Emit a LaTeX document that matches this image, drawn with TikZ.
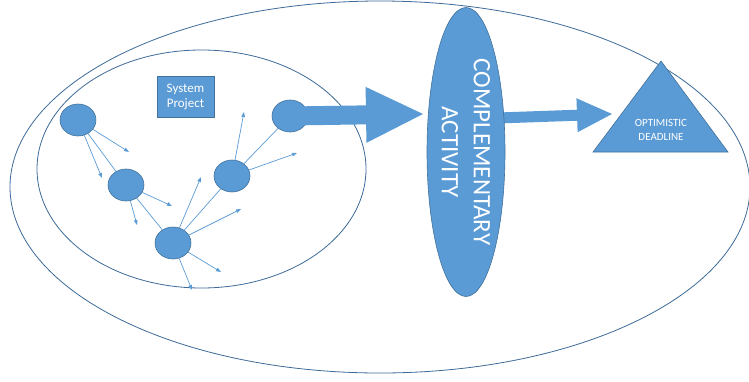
\documentclass[tikz,border=0pt]{standalone}
\usepackage{fontspec}
\setmainfont{Carlito}
\usetikzlibrary{shapes.geometric,arrows.meta}
\definecolor{officeblue}{HTML}{5B9BD5}
\definecolor{officeedge}{HTML}{41719C}
\definecolor{rimblue}{HTML}{3C6A98}

\begin{document}
\begin{tikzpicture}[x=1pt,y=-1pt]
\tikzstyle{rim}=[draw=rimblue,line width=0.8pt]
\tikzstyle{task}=[ellipse,draw=officeedge,fill=officeblue,minimum width=36pt,minimum height=32pt,inner sep=0pt,line width=0.6pt]
\tikzstyle{link}=[draw=officeblue,line width=0.7pt]
\tikzstyle{spread}=[link,-{Triangle[length=5pt,width=3.6pt]}]
\tikzstyle{board}=[rectangle,draw=officeedge,fill=officeblue,text=white,align=center,inner sep=0pt,line width=0.6pt]
\tikzstyle{bigarrow}=[draw=officeblue]
\useasboundingbox (0,0) rectangle (749,381);
\draw[rim] (380,187) ellipse [x radius=370, y radius=186];
\draw[rim] (201.5,169) ellipse [x radius=164.5, y radius=119];
% activities of the system project
\node[task] (c1) at (78,120) {};
\node[task] (c2) at (126,185) {};
\node[task] (c3) at (173,243) {};
\node[task] (c4) at (232,176) {};
\node[task] (c5) at (290,116) {};
\coordinate (t11) at (129,152);
\coordinate (t12) at (102,178);
\coordinate (t21) at (172,206);
\coordinate (t22) at (137,225);
\coordinate (t31) at (201,177);
\coordinate (t32) at (241,209);
\coordinate (t33) at (221,272);
\coordinate (t34) at (192,290);
\coordinate (t41) at (244,112);
\coordinate (t42) at (297,153);
\foreach \a/\b in {c1/c2,c2/c3,c3/c4,c4/c5}
  \draw[link] (\a) -- (\b);
\foreach \a/\b in {c1/t11,c1/t12,c2/t21,c2/t22,c3/t31,c3/t32,c3/t33,c3/t34,c4/t41,c4/t42}
  \draw[spread] (\a) -- (\b);
\node[board,minimum width=57pt,minimum height=41pt,font=\fontsize{13}{15}\selectfont] (sys) at (185.5,96.5) {System\\Project};
% big arrows
\coordinate (tip1) at (423,114);
\coordinate (tail2) at (498,118);
\coordinate (tip2) at (612,114);
\draw[bigarrow,line width=19pt,-{Triangle[length=57pt,width=56pt,line width=0pt]}] (c5.center) -- (tip1);
\draw[bigarrow,line width=11pt,-{Triangle[length=35pt,width=34pt,line width=0pt]}] (tail2) -- (tip2);
\node[board,ellipse,rotate=-90,minimum width=289pt,minimum height=78pt,font=\fontsize{25}{32}\selectfont] (comp) at (466,152) {COMPLEMENTARY\\ACTIVITY};
\filldraw[fill=officeblue,draw=officeedge,line width=0.6pt] (661,61) -- (593,152) -- (728,152) -- cycle;
\node[text=white,align=center,font=\fontsize{11}{14}\selectfont] (deadline) at (661,130) {OPTIMISTIC\\DEADLINE};
\end{tikzpicture}
\end{document}
